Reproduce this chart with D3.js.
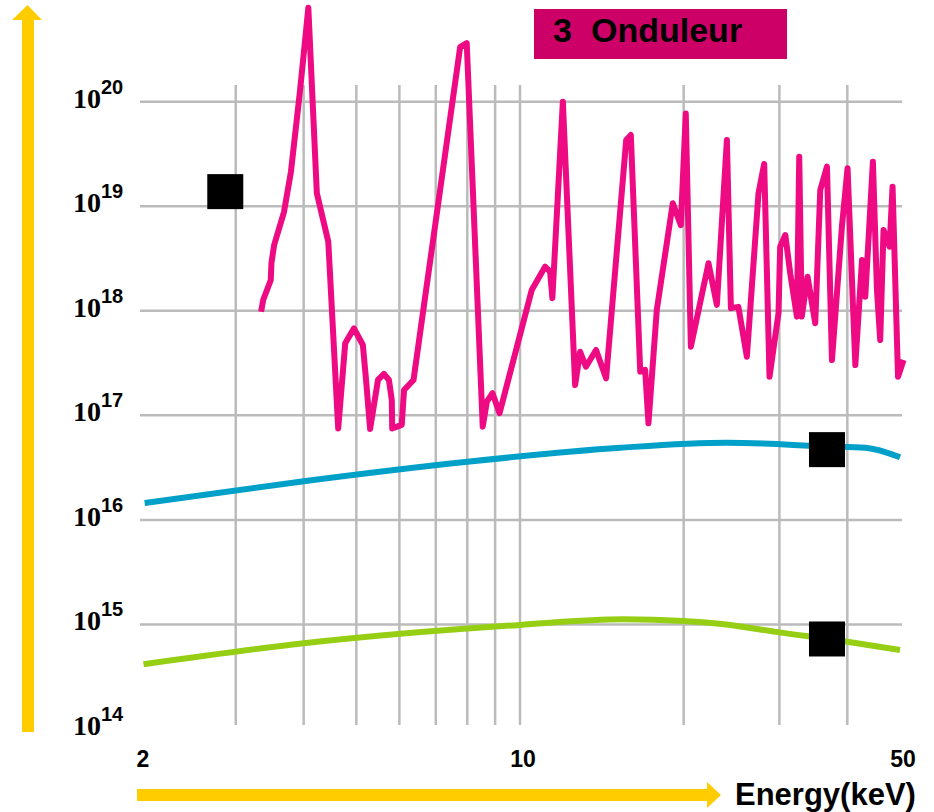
<!DOCTYPE html>
<html>
<head>
<meta charset="utf-8">
<script src="https://cdn.jsdelivr.net/npm/d3@7"></script>
<style>
  body { margin: 0; background: #fff; }
  svg { display: block; }
  .tick { font-family: "Liberation Sans", Arial, sans-serif; font-weight: bold; }
</style>
</head>
<body>
<div id="chart"></div>
<script>
var svgWidth = 934;
var svgHeight = 812;

// magenta line (3 Onduleur)
var pinkEnergy = [3.34, 3.37, 3.48, 3.49, 3.53, 3.68, 3.79, 3.94, 4.08, 4.23, 4.44, 4.63, 4.77, 4.95, 5.14,
  5.21, 5.30, 5.48, 5.62, 5.74, 5.81, 5.82, 6.06, 6.12, 6.37, 7.76, 7.98, 8.54, 8.69, 8.90, 9.17,
  10.51, 11.12, 11.36, 11.47, 11.99, 12.63, 12.90, 13.22, 13.80, 14.40, 15.68, 15.99, 16.64, 16.99,
  17.23, 17.85, 19.10, 19.76, 20.18, 20.62, 22.22, 23.02, 24.02, 24.43, 25.22, 26.14, 27.46, 28.13,
  28.77, 29.89, 30.10, 30.76, 31.41, 32.31, 32.63, 32.98, 33.80, 34.92, 35.67, 36.70, 37.48, 39.10,
  40.04, 41.38, 42.57, 43.16, 44.58, 45.35, 45.98, 46.63, 47.84, 48.45, 49.58, 50.76];
var pinkFlux = [9.8e17, 1.27e18, 1.97e18, 2.87e18, 4.26e18, 8.8e18, 2.13e19, 1.29e20, 7.9e20, 1.33e19, 4.58e18, 7.5e16, 4.89e17, 6.8e17, 4.71e17,
  2.18e17, 7.4e16, 2.18e17, 2.49e17, 2.18e17, 1.40e17, 7.5e16, 8.1e16, 1.75e17, 2.18e17, 3.33e20, 3.64e20, 7.8e16, 1.35e17, 1.63e17, 1.05e17,
  1.58e18, 2.64e18, 2.37e18, 1.32e18, 1.0e20, 1.95e17, 4.06e17, 2.92e17, 4.22e17, 2.26e17, 4.30e19, 4.80e19, 2.62e17, 2.72e17,
  8.4e16, 1.02e18, 1.07e19, 6.6e18, 7.7e19, 4.54e17, 2.85e18, 1.14e18, 4.30e19, 1.06e18, 1.09e18, 3.64e17, 1.33e19, 2.54e19,
  2.34e17, 9.5e17, 4.10e18, 5.31e18, 2.28e18, 8.8e17, 2.98e19, 8.8e17, 2.12e18, 7.6e17, 1.43e19, 2.39e19, 3.38e17, 6.4e18,
  2.31e19, 3.03e17, 3.06e18, 1.36e18, 2.67e19, 1.58e18, 5.26e17, 5.93e18, 4.10e18, 1.54e19, 2.34e17, 3.38e17];

// blue line
var blueEnergy = [2.04, 3.94, 8.0, 15.3, 24.0, 36.7, 43.2, 50];
var blueFlux = [1.45e16, 2.32e16, 3.6e16, 4.9e16, 5.47e16, 5.05e16, 4.9e16, 3.97e16];

// green line
var greenEnergy = [2.03, 4, 10, 15.5, 20, 23.5, 30, 40, 50];
var greenFlux = [4.16e14, 6.6e14, 9.9e14, 1.12e15, 1.08e15, 1.01e15, 8.4e14, 6.84e14, 5.7e14];

// black square markers
var markerEnergy = [2.87, 36.7, 36.7];
var markerFlux = [1.38e19, 4.7e16, 7.26e14];

var xGridValues = [3, 4, 5, 6, 7, 8, 9, 10, 20, 30, 40];
var xTickValues = [2, 10, 50];
var yExponents = [14, 15, 16, 17, 18, 19, 20];
var yGridExponents = [15, 16, 17, 18, 19, 20];
var titleNumber = "3";
var titleText = "Onduleur";
var xLabel = "Energy(keV)";

var svg = d3.select("#chart")
  .append("svg")
  .attr("width", svgWidth)
  .attr("height", svgHeight);

svg.append("rect").attr("width", svgWidth).attr("height", svgHeight).attr("fill", "#fff");

var xScale = d3.scaleLog().domain([2, 50]).range([140, 900]);
var yScale = d3.scaleLog().domain([1e14, 1e20]).range([729, 101.7]);

// grid
var grid = svg.append("g").attr("stroke", "#bbbbbb").attr("stroke-width", 2.5);
grid.selectAll(".hline").data(yGridExponents).enter()
  .append("line")
  .attr("x1", 140).attr("x2", 902)
  .attr("y1", d => yScale(Math.pow(10, d)))
  .attr("y2", d => yScale(Math.pow(10, d)));
grid.selectAll(".vline").data(xGridValues).enter()
  .append("line")
  .attr("x1", d => xScale(d)).attr("x2", d => xScale(d))
  .attr("y1", 85).attr("y2", 725);

// y tick labels 10^n
var yLabels = svg.append("g").selectAll("text").data(yExponents).enter()
  .append("text")
  .attr("x", 73)
  .attr("y", d => yScale(Math.pow(10, d)) + 6)
  .attr("fill", "#000");
yLabels.append("tspan")
  .attr("font-family", "'Liberation Serif', 'Times New Roman', serif")
  .attr("font-weight", "bold")
  .attr("font-size", 28)
  .text("10");
yLabels.append("tspan")
  .attr("font-family", "'Liberation Sans', Arial, sans-serif")
  .attr("font-weight", "bold")
  .attr("font-size", 20)
  .attr("dy", -14)
  .text(d => d);

// x tick labels
svg.append("g").selectAll("text").data(xTickValues).enter()
  .append("text")
  .attr("class", "tick")
  .attr("x", d => xScale(d) + 3)
  .attr("y", 767)
  .attr("text-anchor", "middle")
  .attr("font-size", 23)
  .text(d => d);

// series lines
var line = d3.line()
  .x(d => xScale(d[0]))
  .y(d => yScale(d[1]));
var smooth = d3.line()
  .curve(d3.curveMonotoneX)
  .x(d => xScale(d[0]))
  .y(d => yScale(d[1]));

svg.append("path")
  .datum(d3.zip(greenEnergy, greenFlux))
  .attr("d", smooth)
  .attr("fill", "none")
  .attr("stroke", "#96ce14")
  .attr("stroke-width", 6);

svg.append("path")
  .datum(d3.zip(blueEnergy, blueFlux))
  .attr("d", smooth)
  .attr("fill", "none")
  .attr("stroke", "#00a0c8")
  .attr("stroke-width", 6);

svg.append("path")
  .datum(d3.zip(pinkEnergy, pinkFlux))
  .attr("d", line)
  .attr("fill", "none")
  .attr("stroke", "#ee0a82")
  .attr("stroke-width", 6)
  .attr("stroke-linejoin", "round");

// markers
svg.append("g").selectAll("rect").data(d3.zip(markerEnergy, markerFlux)).enter()
  .append("rect")
  .attr("x", d => xScale(d[0]) - 18)
  .attr("y", d => yScale(d[1]) - 17.5)
  .attr("width", 36)
  .attr("height", 35)
  .attr("fill", "#000");

// axis arrows
var arrows = svg.append("g").attr("fill", "#ffcc00");
arrows.append("rect").attr("x", 22).attr("y", 19).attr("width", 12).attr("height", 713);
arrows.append("path").attr("d", "M12,20 L42,20 L27.5,5 Z");
arrows.append("rect").attr("x", 137).attr("y", 789).attr("width", 571).attr("height", 12);
arrows.append("path").attr("d", "M707,782 L707,808 L721,795 Z");

svg.append("text")
  .attr("class", "tick")
  .attr("x", 735)
  .attr("y", 805)
  .attr("font-size", 31)
  .text(xLabel);

// title box
svg.append("rect")
  .attr("x", 534).attr("y", 9)
  .attr("width", 253).attr("height", 50)
  .attr("fill", "#cc0066");
var title = svg.append("text")
  .attr("class", "tick")
  .attr("y", 42)
  .attr("font-size", 34)
  .attr("fill", "#000");
title.append("tspan").attr("x", 553).text(titleNumber);
title.append("tspan").attr("x", 591).text(titleText);
</script>
</body>
</html>
